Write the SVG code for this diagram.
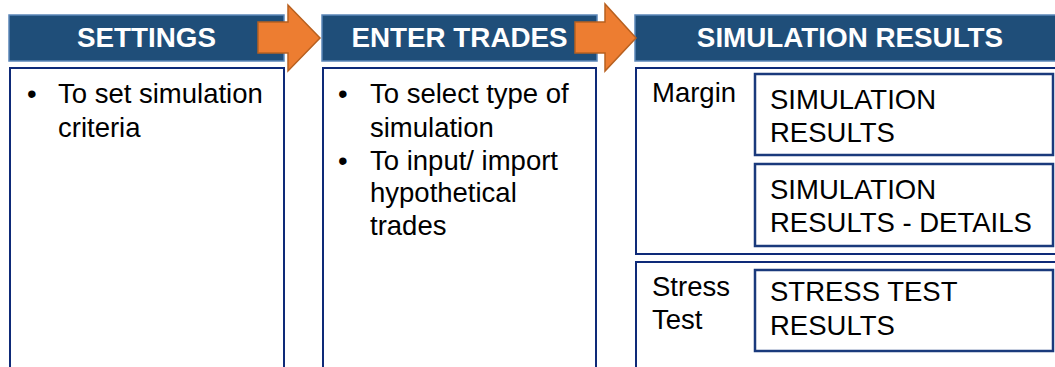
<svg xmlns="http://www.w3.org/2000/svg" width="1055" height="367" viewBox="0 0 1055 367">
<style>
.hdr{fill:#1F4E79;stroke:#5B86B8;stroke-width:1.5}
.hdrt{font-family:"Liberation Sans",Arial,sans-serif;font-weight:bold;font-size:27.8px;fill:#FFFFFF;text-anchor:middle}
.box{fill:#FFFFFF;stroke:#0E2A78;stroke-width:2}
.ibox{fill:#FFFFFF;stroke:#1A3A7C;stroke-width:2.5}
.t{font-family:"Liberation Sans",Arial,sans-serif;font-size:27.5px;fill:#000000}
.arr{fill:#ED7D31;stroke:#B8601F;stroke-width:1.5}
</style>
<rect width="1055" height="367" fill="#FFFFFF"/>
<g id="settings">
<rect class="hdr" x="9" y="15" width="275" height="46"/>
<text class="hdrt" x="146.5" y="47">SETTINGS</text>
<rect class="box" x="10" y="68" width="274" height="310"/>
<text class="t" x="27" y="103">•</text>
<text class="t" x="58" y="103">To set simulation</text>
<text class="t" x="58" y="137">criteria</text>
</g>
<g id="enter-trades">
<rect class="hdr" x="322" y="15" width="275" height="46"/>
<text class="hdrt" x="459.5" y="47">ENTER TRADES</text>
<rect class="box" x="323" y="68" width="273" height="310"/>
<text class="t" x="338" y="103">•</text>
<text class="t" x="370" y="103">To select type of</text>
<text class="t" x="370" y="137">simulation</text>
<text class="t" x="338" y="170">•</text>
<text class="t" x="370" y="170">To input/ import</text>
<text class="t" x="370" y="202">hypothetical</text>
<text class="t" x="370" y="235">trades</text>
</g>
<g id="simulation-results">
<rect class="hdr" x="635" y="15" width="430" height="46"/>
<text class="hdrt" x="850" y="47">SIMULATION RESULTS</text>
</g>
<g id="margin">
<rect class="box" x="636" y="68" width="430" height="186"/>
<text class="t" x="652" y="102">Margin</text>
</g>
<g id="sim-results-box">
<rect class="ibox" x="755" y="74" width="298" height="81"/>
<text class="t" x="770" y="109">SIMULATION</text>
<text class="t" x="770" y="142">RESULTS</text>
</g>
<g id="sim-results-details-box">
<rect class="ibox" x="755" y="164" width="298" height="82"/>
<text class="t" x="770" y="199">SIMULATION</text>
<text class="t" x="770" y="232">RESULTS - DETAILS</text>
</g>
<g id="stress-test">
<rect class="box" x="636" y="262" width="430" height="120"/>
<text class="t" x="652" y="296">Stress</text>
<text class="t" x="652" y="329">Test</text>
</g>
<g id="stress-test-results-box">
<rect class="ibox" x="755" y="270" width="298" height="81"/>
<text class="t" x="770" y="301">STRESS TEST</text>
<text class="t" x="770" y="335">RESULTS</text>
</g>
<g id="connectors">
<polygon class="arr" points="258,22 288,22 288,5 320,38 288,71 288,53 258,53"/>
<polygon class="arr" points="575,22 605,22 605,4 636,38 605,71 605,53 575,53"/>
</g>
</svg>
